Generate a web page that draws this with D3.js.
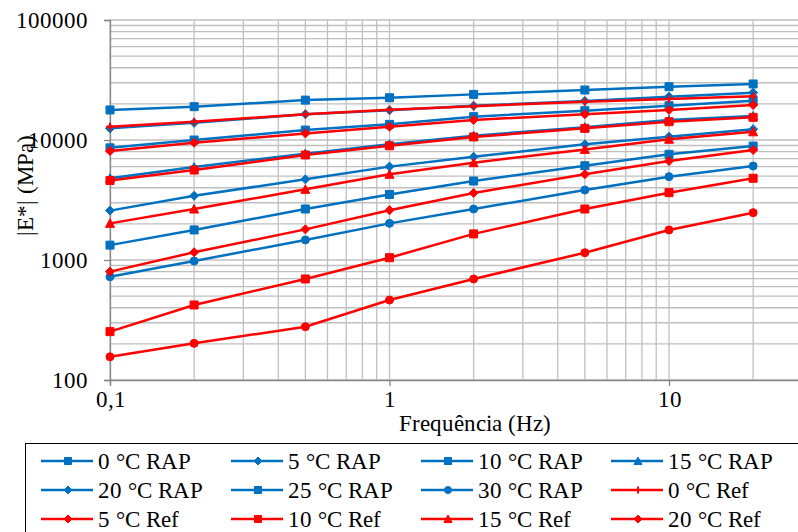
<!DOCTYPE html>
<html>
<head>
<meta charset="utf-8">
<script src="https://cdn.jsdelivr.net/npm/d3@7"></script>
<style>
  @font-face {
    font-family: "ChartSerif";
    src: local("Liberation Serif"), local("LiberationSerif"), local("LiberationSerif-Regular"),
         local("Liberation Serif Regular"), local("DejaVu Serif"), local("DejaVuSerif"),
         local("Noto Serif"), local("NotoSerif-Regular"), local("Times New Roman");
  }
  body { margin: 0; background: #fff; }
  svg { display: block; }
  svg text { font-family: "ChartSerif", "Liberation Serif", "DejaVu Serif", serif; fill: #000; }
</style>
</head>
<body>
<svg id="chart" width="798" height="532"></svg>
<script>
// Loading frequencies (Hz)
const frequencies = [0.1, 0.2, 0.5, 1, 2, 5, 10, 20];

// Dynamic modulus |E*| (MPa) — mixtures with RAP
const rap0  = [17800, 18950, 21500, 22500, 24000, 26100, 27800, 29300];
const rap5  = [12500, 13900, 16400, 17700, 19300, 21150, 22950, 24800];
const rap10 = [8600, 10000, 12100, 13500, 15650, 17550, 19300, 21250];
const rap15 = [4800, 5950, 7700, 9200, 10850, 12800, 14700, 15850];
const rap20 = [2580, 3430, 4700, 6000, 7250, 9200, 10650, 12300];
const rap25 = [1330, 1780, 2660, 3520, 4550, 6100, 7600, 8900];
const rap30 = [725, 980, 1470, 2020, 2660, 3830, 4950, 6070];

// Dynamic modulus |E*| (MPa) — reference mixture
const ref0  = [12900, 14200, 16400, 17900, 19100, 20850, 21950, 23200];
const ref5  = [8100, 9500, 11350, 12900, 14700, 16400, 17800, 19550];
const ref10 = [4600, 5620, 7500, 8950, 10600, 12500, 14200, 15450];
const ref15 = [2020, 2660, 3880, 5180, 6470, 8350, 10150, 11700];
const ref20 = [800, 1160, 1800, 2600, 3620, 5180, 6680, 8250];
const ref25 = [253, 422, 695, 1045, 1650, 2660, 3640, 4800];
const ref30 = [156, 202, 278, 464, 695, 1150, 1780, 2480];

const seriesNames = [
  "0 °C RAP", "5 °C RAP", "10 °C RAP", "15 °C RAP", "20 °C RAP", "25 °C RAP", "30 °C RAP",
  "0 °C Ref", "5 °C Ref", "10 °C Ref", "15 °C Ref", "20 °C Ref", "25 °C Ref", "30 °C Ref"
];
const seriesValues = [rap0, rap5, rap10, rap15, rap20, rap25, rap30,
                      ref0, ref5, ref10, ref15, ref20, ref25, ref30];
const seriesMarkers = ["square", "diamond", "square", "triangle", "diamond", "square", "circle",
                       "plus", "diamond", "square", "triangle", "diamond", "square", "circle"];

const xTickValues = [0.1, 1, 10];
const yTickValues = [100, 1000, 10000, 100000];

const BLUE = "#0070C0";
const RED = "#FF0000";
const GRID = "#C0C0C0";
const AXIS = "#868686";
const W = 798, H = 532;

const series = seriesNames.map((name, i) => ({
  name,
  values: seriesValues[i],
  marker: seriesMarkers[i],
  color: name.endsWith("RAP") ? BLUE : RED
}));

const svg = d3.select("#chart");

const x = d3.scaleLog().domain([0.1, 100]).range([110, 948.5]);
const y = d3.scaleLog().domain([100, 100000]).range([380, 20]);

// Gridlines (major + minor on both log axes)
const grid = svg.append("g");
grid.selectAll("line.h")
  .data(y.ticks())
  .join("line")
  .attr("x1", x(0.1)).attr("x2", x(100))
  .attr("y1", d => y(d)).attr("y2", d => y(d))
  .attr("stroke", GRID).attr("stroke-width", 1.3);
grid.selectAll("line.v")
  .data(x.ticks())
  .join("line")
  .attr("x1", d => x(d)).attr("x2", d => x(d))
  .attr("y1", y(100)).attr("y2", y(100000))
  .attr("stroke", GRID).attr("stroke-width", 1.3);

// Axes
const fmtX = d => String(d).replace(".", ",");
const xAxis = svg.append("g")
  .attr("transform", `translate(0,${y(100)})`)
  .call(d3.axisBottom(x).tickValues(xTickValues).tickFormat(fmtX).tickSize(6).tickPadding(5));
const yAxis = svg.append("g")
  .attr("transform", `translate(${x(0.1)},0)`)
  .call(d3.axisLeft(y).tickValues(yTickValues).tickFormat(d3.format("d")).tickSize(6).tickPadding(16));
[xAxis, yAxis].forEach(a => {
  a.attr("font-family", null).attr("font-size", null);
  a.select(".domain").attr("stroke", AXIS).attr("stroke-width", 1.3);
  a.selectAll(".tick line").attr("stroke", AXIS).attr("stroke-width", 1.3);
  a.selectAll(".tick text").attr("font-size", 23).attr("fill", "#000");
});

// Axis titles
svg.append("text")
  .attr("x", 475).attr("y", 431)
  .attr("text-anchor", "middle")
  .attr("font-size", 23)
  .text("Frequência (Hz)");
svg.append("text")
  .attr("transform", "translate(33,185) rotate(-90)")
  .attr("text-anchor", "middle")
  .attr("font-size", 23)
  .text("|E*| (MPa)");

// Marker shapes
function markerPath(type, s) {
  const h = s / 2;
  switch (type) {
    case "square": return `M${-h},${-h}H${h}V${h}H${-h}Z`;
    case "diamond": return `M0,${-h - 0.5}L${h + 0.5},0L0,${h + 0.5}L${-h - 0.5},0Z`;
    case "triangle": return `M0,${-h - 0.5}L${h + 0.5},${h}L${-h - 0.5},${h}Z`;
    case "circle": return d3.symbol(d3.symbolCircle, Math.PI * h * h)();
    case "plus": return `M${-h},0H${h}M0,${-h}V${h}`;
  }
}
function drawMarker(g, type, color, s) {
  const p = g.append("path").attr("d", markerPath(type, s));
  if (type === "plus") {
    p.attr("fill", "none").attr("stroke", color).attr("stroke-width", 2);
  } else {
    p.attr("fill", color).attr("stroke", color).attr("stroke-width", 1);
  }
}

// Series lines and markers
const line = d3.line().x((d, i) => x(frequencies[i])).y(d => y(d));
const plot = svg.append("g");
series.forEach(s => {
  const g = plot.append("g");
  g.append("path")
    .attr("d", line(s.values))
    .attr("fill", "none")
    .attr("stroke", s.color)
    .attr("stroke-width", 2.5);
  s.values.forEach((v, i) => {
    const m = g.append("g").attr("transform", `translate(${x(frequencies[i])},${y(v)})`);
    drawMarker(m, s.marker, s.color, 8);
  });
});

// Legend (4 columns); the frame runs past the bottom edge of the canvas
const legend = svg.append("g");
legend.append("rect")
  .attr("x", 25.5).attr("y", 443.5)
  .attr("width", 820).attr("height", 140)
  .attr("fill", "#fff").attr("stroke", "#000").attr("stroke-width", 1);
series.forEach((s, i) => {
  const col = i % 4, row = Math.floor(i / 4);
  const cx = 68 + col * 190, cy = 461 + row * 29;
  if (cy + 8 > H) return; // rows below the canvas are not drawn
  const item = legend.append("g");
  item.append("line")
    .attr("x1", cx - 27).attr("x2", cx + 25)
    .attr("y1", cy).attr("y2", cy)
    .attr("stroke", s.color).attr("stroke-width", 2.5);
  const m = item.append("g").attr("transform", `translate(${cx},${cy})`);
  drawMarker(m, s.marker, s.color, 7);
  item.append("text")
    .attr("x", cx + 30).attr("y", cy + 8)
    .attr("font-size", 23)
    .text(s.name);
});
</script>
</body>
</html>
